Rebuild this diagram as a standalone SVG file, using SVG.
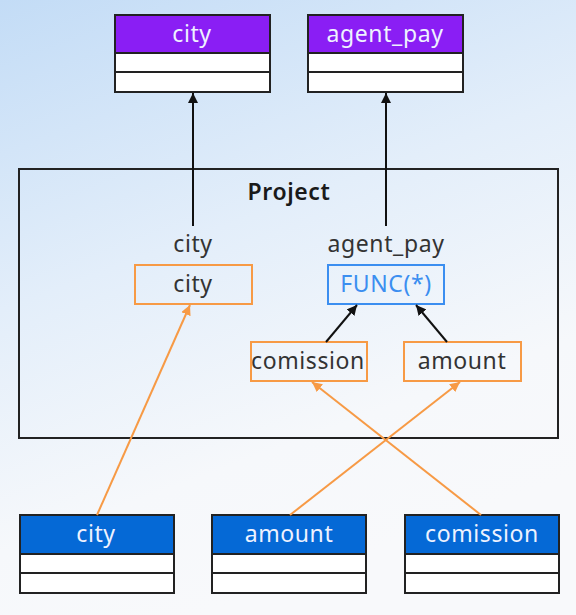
<svg xmlns="http://www.w3.org/2000/svg" width="576" height="615" viewBox="0 0 576 615">
<defs>
<linearGradient id="bg" x1="0" y1="0" x2="0.35" y2="1">
<stop offset="0" stop-color="#c3dcf6"/>
<stop offset="0.45" stop-color="#e3eefa"/>
<stop offset="0.8" stop-color="#f6f8fb"/>
<stop offset="1" stop-color="#f8f9fb"/>
</linearGradient>
<marker id="ab" viewBox="0 0 10 10" refX="10" refY="5" markerWidth="10" markerHeight="10" markerUnits="userSpaceOnUse" orient="auto">
<path d="M0,0 L10,5 L0,10 z" fill="#111"/>
</marker>
<marker id="ao" viewBox="0 0 10 10" refX="10" refY="5" markerWidth="10" markerHeight="10" markerUnits="userSpaceOnUse" orient="auto">
<path d="M0,0 L10,5 L0,10 z" fill="#f79a45"/>
</marker>
</defs>
<style>
text{font-family:"Noto Sans","Open Sans",sans-serif;font-size:23px;text-anchor:middle;letter-spacing:0.6px}
.hdrP{fill:#8a1ef4;stroke:#222;stroke-width:2}
.hdrB{fill:#0569d6;stroke:#222;stroke-width:2}
.row{fill:#fff;stroke:#222;stroke-width:2}
.ht{fill:#eef2ff}
.lbl{fill:#333}
.ob{fill:none;stroke:#f79a45;stroke-width:2}
.bb{fill:none;stroke:#3b8ef0;stroke-width:2}
.ln{stroke:#111;stroke-width:2;fill:none}
.lo{stroke:#f79a45;stroke-width:2;fill:none}
</style>
<rect x="0" y="0" width="576" height="615" fill="url(#bg)"/>

<g id="project">
<rect x="19" y="169" width="539" height="269" fill="none" stroke="#222" stroke-width="2"/>
<text x="289" y="200" class="lbl" style="font-weight:600;fill:#1a1a1a">Project</text>
<text x="193" y="252" class="lbl">city</text>
<text x="386" y="252" class="lbl">agent_pay</text>
</g>

<g id="out-city">
<rect x="115" y="15" width="155" height="38" class="hdrP"/>
<rect x="115" y="53" width="155" height="19" class="row"/>
<rect x="115" y="72" width="155" height="20" class="row"/>
<text x="192" y="42" class="ht">city</text>
</g>
<g id="out-agent_pay">
<rect x="308" y="15" width="155" height="38" class="hdrP"/>
<rect x="308" y="53" width="155" height="19" class="row"/>
<rect x="308" y="72" width="155" height="20" class="row"/>
<text x="385" y="42" class="ht">agent_pay</text>
</g>

<g id="p-city">
<rect x="135" y="265" width="117" height="39" class="ob"/>
<text x="193" y="292" class="lbl">city</text>
</g>
<g id="p-func">
<rect x="328" y="265" width="116" height="39" class="bb"/>
<text x="386" y="292" style="fill:#3b8ef0">FUNC(*)</text>
</g>
<g id="p-comission">
<rect x="251" y="342" width="116" height="39" class="ob"/>
<text x="308" y="369" class="lbl">comission</text>
</g>
<g id="p-amount">
<rect x="404" y="342" width="117" height="39" class="ob"/>
<text x="462" y="369" class="lbl">amount</text>
</g>

<g id="in-city">
<rect x="20" y="515" width="154" height="39" class="hdrB"/>
<rect x="20" y="554" width="154" height="19" class="row"/>
<rect x="20" y="573" width="154" height="20" class="row"/>
<text x="96" y="542" class="ht">city</text>
</g>
<g id="in-amount">
<rect x="212" y="515" width="154" height="39" class="hdrB"/>
<rect x="212" y="554" width="154" height="19" class="row"/>
<rect x="212" y="573" width="154" height="20" class="row"/>
<text x="289" y="542" class="ht">amount</text>
</g>
<g id="in-comission">
<rect x="405" y="515" width="154" height="39" class="hdrB"/>
<rect x="405" y="554" width="154" height="19" class="row"/>
<rect x="405" y="573" width="154" height="20" class="row"/>
<text x="482" y="542" class="ht">comission</text>
</g>

<g id="connectors">
<line x1="193" y1="226" x2="193" y2="93" class="ln" marker-end="url(#ab)"/>
<line x1="386" y1="226" x2="386" y2="93" class="ln" marker-end="url(#ab)"/>
<line x1="326" y1="342" x2="357" y2="305" class="ln" marker-end="url(#ab)"/>
<line x1="447" y1="342" x2="416" y2="305" class="ln" marker-end="url(#ab)"/>
<line x1="97" y1="515" x2="190" y2="305" class="lo" marker-end="url(#ao)"/>
<line x1="290" y1="515" x2="460" y2="382" class="lo" marker-end="url(#ao)"/>
<line x1="481" y1="515" x2="312" y2="382" class="lo" marker-end="url(#ao)"/>
</g>
</svg>
